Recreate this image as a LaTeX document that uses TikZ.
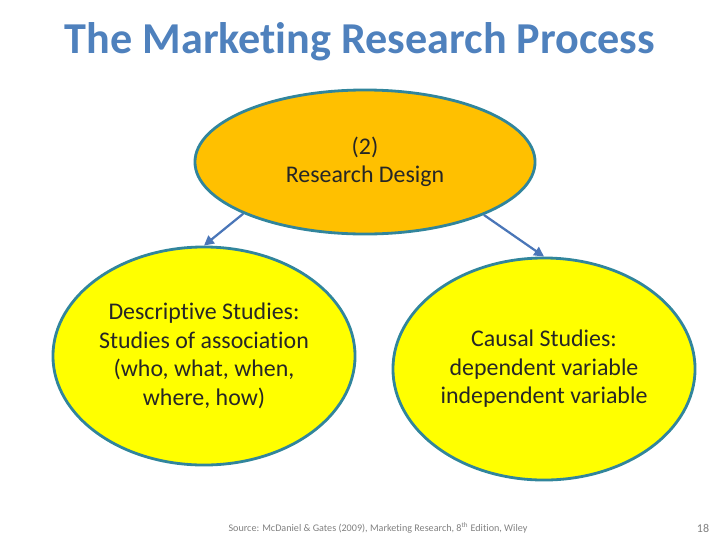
\documentclass[tikz,border=0pt]{standalone}
\usepackage{fontspec}
\setmainfont{Carlito}[Ligatures=NoCommon]
\usetikzlibrary{shapes.geometric,arrows.meta}
\definecolor{titleblue}{HTML}{4F81BD}
\definecolor{rim}{HTML}{31859C}
\definecolor{arrowblue}{HTML}{4A76B8}
\definecolor{stepgold}{HTML}{FFC000}
\definecolor{stepyellow}{HTML}{FFFF00}
\tikzset{
  bubble/.style={ellipse, draw=rim, line width=2pt, inner sep=0pt, align=center,
    text=black!85, font=\fontsize{17}{20.3}\selectfont},
  link/.style={-{Triangle[length=7pt,width=7pt]}, draw=arrowblue, line width=1.6pt}
}
\begin{document}
\begin{tikzpicture}[x=0.025cm,y=-0.025cm]
\useasboundingbox (0,0) rectangle (720,540);
\node (title) at (360,42) {\fontsize{31.4}{34}\selectfont\bfseries\color{titleblue}The Marketing Research Process};
\node[bubble, fill=stepgold, minimum width=8.5cm, minimum height=3.6cm] (design) at (365,162) {(2)\\Research Design};
\node[bubble, fill=stepyellow, minimum width=7.55cm, minimum height=5.45cm] (desc) at (204,356) {Descriptive Studies:\\Studies of association\\(who, what, when,\\where, how)};
\node[bubble, fill=stepyellow, minimum width=7.55cm, minimum height=5.55cm] (causal) at (544,369) {Causal Studies:\\dependent variable\\independent variable};
\node[text=gray] (src) at (378,528) {\fontsize{7.2}{9}\selectfont Source: McDaniel \& Gates (2009), Marketing Research, 8\textsuperscript{th} Edition, Wiley};
\node[text=gray] (page) at (703,528) {\fontsize{8.5}{10}\selectfont 18};

\draw [link] (design.203) -- (desc.90);
\draw [link] (design.-24) -- (causal.90);
\end{tikzpicture}
\end{document}
